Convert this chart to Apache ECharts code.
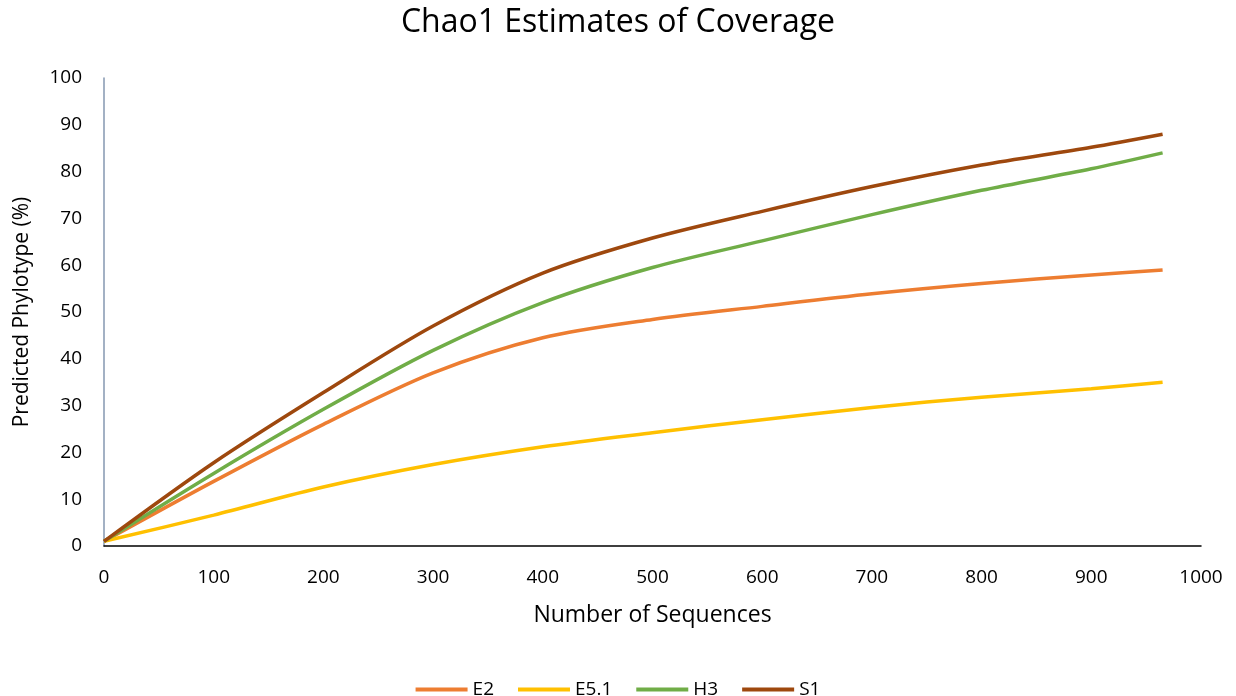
<!DOCTYPE html>
<html>
<head>
<meta charset="utf-8">
<script src="https://cdn.jsdelivr.net/npm/echarts@6/dist/echarts.min.js"></script>
<style>
  html, body { margin: 0; padding: 0; background: #fff; }
  #chart { width: 1236px; height: 696px; }
</style>
</head>
<body>
<div id="chart"></div>
<script>
// Number of sequences sampled (x) and Chao1 predicted phylotype coverage (%) per sample
const sequences = [0, 100, 200, 300, 400, 500, 600, 700, 800, 900, 965];
const e2   = [1, 13.8, 26.0, 37.0, 44.5, 48.4, 51.2, 53.9, 56.1, 57.9, 59.0];
const e51  = [1, 6.6, 12.6, 17.4, 21.2, 24.2, 27.0, 29.6, 31.8, 33.6, 35.0];
const h3   = [1, 15.5, 29.2, 41.8, 52.0, 59.5, 65.2, 70.8, 76.0, 80.6, 84.0];
const s1   = [1, 17.8, 32.8, 47.0, 58.3, 65.8, 71.5, 76.8, 81.4, 85.2, 88.0];

const seriesNames = ['E2', 'E5.1', 'H3', 'S1'];
const seriesData = [e2, e51, h3, s1];
const seriesColors = ['#ED7D31', '#FFC000', '#70AD47', '#9E480E'];

const FONT = '"Open Sans", "Noto Sans", sans-serif';

const chart = echarts.init(document.getElementById('chart'));
chart.setOption({
  animation: false,
  backgroundColor: '#ffffff',
  title: {
    text: 'Chao1 Estimates of Coverage',
    left: 'center',
    top: 2,
    textStyle: { fontFamily: FONT, fontSize: 32, fontWeight: 'normal', color: '#000' }
  },
  legend: {
    top: 675,
    left: 'center',
    itemWidth: 52,
    itemHeight: 4,
    itemGap: 24,
    icon: 'rect',
    textStyle: { fontFamily: FONT, fontSize: 19, color: '#000' },
    data: seriesNames
  },
  grid: { left: 104, right: 35, top: 78, bottom: 150, containLabel: false },
  xAxis: {
    type: 'value',
    min: 0, max: 1000, interval: 100,
    name: 'Number of Sequences',
    nameLocation: 'middle',
    nameGap: 58,
    nameTextStyle: { fontFamily: FONT, fontSize: 23, color: '#000' },
    axisLine: { show: true, lineStyle: { color: '#000', width: 1.5 } },
    axisTick: { show: false },
    splitLine: { show: false },
    axisLabel: {
      fontFamily: FONT, fontSize: 19, color: '#000', margin: 22,
      formatter: v => String(v)
    }
  },
  yAxis: {
    type: 'value',
    min: 0, max: 100, interval: 10,
    name: 'Predicted Phylotype (%)',
    nameLocation: 'middle',
    nameGap: 71,
    nameTextStyle: { fontFamily: FONT, fontSize: 21, color: '#000' },
    axisLine: { show: true, lineStyle: { color: '#8497B0', width: 1.5 } },
    axisTick: { show: false },
    splitLine: { show: false },
    axisLabel: { fontFamily: FONT, fontSize: 19, color: '#000', margin: 22 }
  },
  series: seriesNames.map((name, i) => ({
    name: name,
    type: 'line',
    smooth: 0.3,
    showSymbol: false,
    symbol: 'none',
    color: seriesColors[i],
    lineStyle: { width: 3.5, color: seriesColors[i] },
    data: sequences.map((x, j) => [x, seriesData[i][j]])
  }))
});
</script>
</body>
</html>
